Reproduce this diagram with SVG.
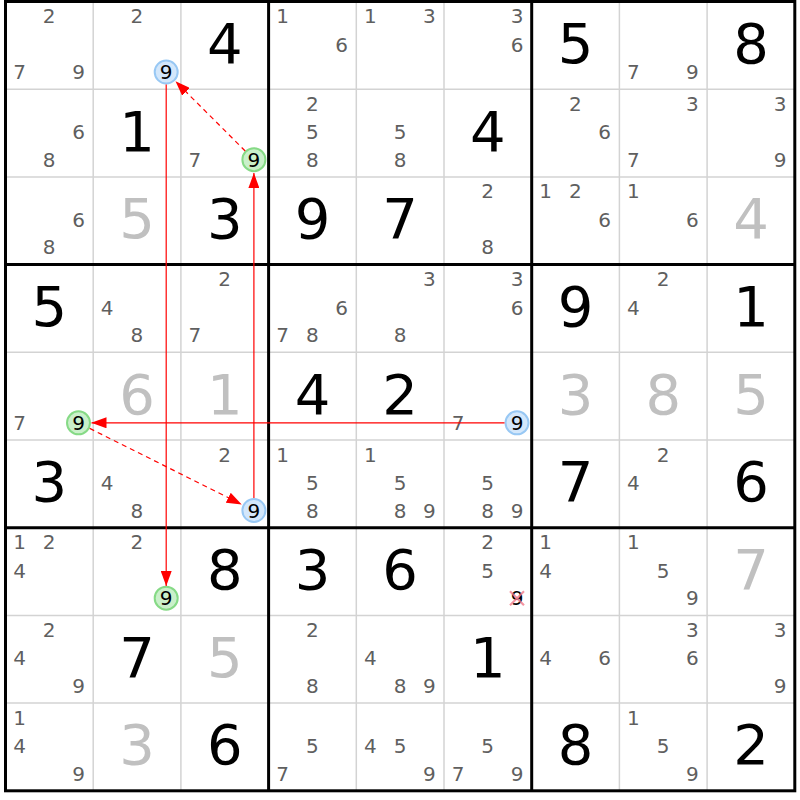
<svg xmlns="http://www.w3.org/2000/svg" width="800" height="800" viewBox="0 0 800 800">
<defs>
<style>
text{font-family:"DejaVu Sans","Liberation Sans",sans-serif;text-anchor:middle}
.c{font-size:20px;fill:#5f5f5f}
.k{font-size:20px;fill:#000}
.g{font-size:56px;fill:#000}
.s{font-size:56px;fill:#c0c0c0}
.thin{stroke:#d3d3d3;stroke-width:1.5}
.thick{stroke:#000;stroke-width:3;fill:none}
.cb{fill:#d3e7fb;stroke:#98c8f4;stroke-width:2}
.cg{fill:#caf0ca;stroke:#86da86;stroke-width:2}
.ln{stroke:#ff0000;stroke-width:1.2;fill:none}
.dash{stroke-dasharray:5 4}
.x{stroke:#f07888;stroke-width:2.2;stroke-opacity:0.8}
</style>
<marker id="ah" viewBox="0 0 15 11" refX="15" refY="5.5" markerWidth="15" markerHeight="11" markerUnits="userSpaceOnUse" orient="auto">
<path d="M0,0 L15,5.5 L0,11 z" fill="#ff0000"/>
</marker>
</defs>
<rect x="0" y="0" width="800" height="800" fill="#fff"/>
<g id="grid">
<line class="thin" x1="93.2" y1="1.5" x2="93.2" y2="790.8"/>
<line class="thin" x1="180.9" y1="1.5" x2="180.9" y2="790.8"/>
<line class="thin" x1="356.3" y1="1.5" x2="356.3" y2="790.8"/>
<line class="thin" x1="444" y1="1.5" x2="444" y2="790.8"/>
<line class="thin" x1="619.4" y1="1.5" x2="619.4" y2="790.8"/>
<line class="thin" x1="707.1" y1="1.5" x2="707.1" y2="790.8"/>
<line class="thin" x1="5.5" y1="89.2" x2="794.8" y2="89.2"/>
<line class="thin" x1="5.5" y1="176.9" x2="794.8" y2="176.9"/>
<line class="thin" x1="5.5" y1="352.3" x2="794.8" y2="352.3"/>
<line class="thin" x1="5.5" y1="440" x2="794.8" y2="440"/>
<line class="thin" x1="5.5" y1="615.4" x2="794.8" y2="615.4"/>
<line class="thin" x1="5.5" y1="703.1" x2="794.8" y2="703.1"/>
<line class="thick" x1="268.6" y1="1.5" x2="268.6" y2="790.8"/>
<line class="thick" x1="531.7" y1="1.5" x2="531.7" y2="790.8"/>
<line class="thick" x1="5.5" y1="264.6" x2="794.8" y2="264.6"/>
<line class="thick" x1="5.5" y1="527.7" x2="794.8" y2="527.7"/>
<rect class="thick" x="5.5" y="1.5" width="789.3" height="789.3"/>
</g>
<g id="r0c0"><text class="c" x="49.2" y="23">2</text><text class="c" x="19.5" y="79">7</text><text class="c" x="78.5" y="79">9</text></g>
<g id="r0c1"><text class="c" x="136.9" y="23">2</text><circle class="cb" cx="166.2" cy="72" r="11.5"/><text class="k" x="166.2" y="79">9</text></g>
<g id="r0c2"><text class="g" x="224.75" y="62.8">4</text></g>
<g id="r0c3"><text class="c" x="282.6" y="23">1</text><text class="c" x="341.6" y="51.5">6</text></g>
<g id="r0c4"><text class="c" x="370.3" y="23">1</text><text class="c" x="429.3" y="23">3</text></g>
<g id="r0c5"><text class="c" x="517" y="23">3</text><text class="c" x="517" y="51.5">6</text></g>
<g id="r0c6"><text class="g" x="575.55" y="62.8">5</text></g>
<g id="r0c7"><text class="c" x="633.4" y="79">7</text><text class="c" x="692.4" y="79">9</text></g>
<g id="r0c8"><text class="g" x="750.95" y="62.8">8</text></g>

<g id="r1c0"><text class="c" x="78.5" y="139.2">6</text><text class="c" x="49.2" y="166.7">8</text></g>
<g id="r1c1"><text class="g" x="137.05" y="150.5">1</text></g>
<g id="r1c2"><text class="c" x="194.9" y="166.7">7</text><circle class="cg" cx="253.9" cy="159.7" r="11.5"/><text class="k" x="253.9" y="166.7">9</text></g>
<g id="r1c3"><text class="c" x="312.3" y="110.7">2</text><text class="c" x="312.3" y="139.2">5</text><text class="c" x="312.3" y="166.7">8</text></g>
<g id="r1c4"><text class="c" x="400" y="139.2">5</text><text class="c" x="400" y="166.7">8</text></g>
<g id="r1c5"><text class="g" x="487.85" y="150.5">4</text></g>
<g id="r1c6"><text class="c" x="575.4" y="110.7">2</text><text class="c" x="604.7" y="139.2">6</text></g>
<g id="r1c7"><text class="c" x="692.4" y="110.7">3</text><text class="c" x="633.4" y="166.7">7</text></g>
<g id="r1c8"><text class="c" x="780.1" y="110.7">3</text><text class="c" x="780.1" y="166.7">9</text></g>

<g id="r2c0"><text class="c" x="78.5" y="226.9">6</text><text class="c" x="49.2" y="254.4">8</text></g>
<g id="r2c1"><text class="s" x="137.05" y="238.2">5</text></g>
<g id="r2c2"><text class="g" x="224.75" y="238.2">3</text></g>
<g id="r2c3"><text class="g" x="312.45" y="238.2">9</text></g>
<g id="r2c4"><text class="g" x="400.15" y="238.2">7</text></g>
<g id="r2c5"><text class="c" x="487.7" y="198.4">2</text><text class="c" x="487.7" y="254.4">8</text></g>
<g id="r2c6"><text class="c" x="545.7" y="198.4">1</text><text class="c" x="575.4" y="198.4">2</text><text class="c" x="604.7" y="226.9">6</text></g>
<g id="r2c7"><text class="c" x="633.4" y="198.4">1</text><text class="c" x="692.4" y="226.9">6</text></g>
<g id="r2c8"><text class="s" x="750.95" y="238.2">4</text></g>

<g id="r3c0"><text class="g" x="49.35" y="325.9">5</text></g>
<g id="r3c1"><text class="c" x="107.2" y="314.6">4</text><text class="c" x="136.9" y="342.1">8</text></g>
<g id="r3c2"><text class="c" x="224.6" y="286.1">2</text><text class="c" x="194.9" y="342.1">7</text></g>
<g id="r3c3"><text class="c" x="341.6" y="314.6">6</text><text class="c" x="282.6" y="342.1">7</text><text class="c" x="312.3" y="342.1">8</text></g>
<g id="r3c4"><text class="c" x="429.3" y="286.1">3</text><text class="c" x="400" y="342.1">8</text></g>
<g id="r3c5"><text class="c" x="517" y="286.1">3</text><text class="c" x="517" y="314.6">6</text></g>
<g id="r3c6"><text class="g" x="575.55" y="325.9">9</text></g>
<g id="r3c7"><text class="c" x="663.1" y="286.1">2</text><text class="c" x="633.4" y="314.6">4</text></g>
<g id="r3c8"><text class="g" x="750.95" y="325.9">1</text></g>

<g id="r4c0"><text class="c" x="19.5" y="429.8">7</text><circle class="cg" cx="78.5" cy="422.8" r="11.5"/><text class="k" x="78.5" y="429.8">9</text></g>
<g id="r4c1"><text class="s" x="137.05" y="413.6">6</text></g>
<g id="r4c2"><text class="s" x="224.75" y="413.6">1</text></g>
<g id="r4c3"><text class="g" x="312.45" y="413.6">4</text></g>
<g id="r4c4"><text class="g" x="400.15" y="413.6">2</text></g>
<g id="r4c5"><text class="c" x="458" y="429.8">7</text><circle class="cb" cx="517" cy="422.8" r="11.5"/><text class="k" x="517" y="429.8">9</text></g>
<g id="r4c6"><text class="s" x="575.55" y="413.6">3</text></g>
<g id="r4c7"><text class="s" x="663.25" y="413.6">8</text></g>
<g id="r4c8"><text class="s" x="750.95" y="413.6">5</text></g>

<g id="r5c0"><text class="g" x="49.35" y="501.3">3</text></g>
<g id="r5c1"><text class="c" x="107.2" y="490">4</text><text class="c" x="136.9" y="517.5">8</text></g>
<g id="r5c2"><text class="c" x="224.6" y="461.5">2</text><circle class="cb" cx="253.9" cy="510.5" r="11.5"/><text class="k" x="253.9" y="517.5">9</text></g>
<g id="r5c3"><text class="c" x="282.6" y="461.5">1</text><text class="c" x="312.3" y="490">5</text><text class="c" x="312.3" y="517.5">8</text></g>
<g id="r5c4"><text class="c" x="370.3" y="461.5">1</text><text class="c" x="400" y="490">5</text><text class="c" x="400" y="517.5">8</text><text class="c" x="429.3" y="517.5">9</text></g>
<g id="r5c5"><text class="c" x="487.7" y="490">5</text><text class="c" x="487.7" y="517.5">8</text><text class="c" x="517" y="517.5">9</text></g>
<g id="r5c6"><text class="g" x="575.55" y="501.3">7</text></g>
<g id="r5c7"><text class="c" x="663.1" y="461.5">2</text><text class="c" x="633.4" y="490">4</text></g>
<g id="r5c8"><text class="g" x="750.95" y="501.3">6</text></g>

<g id="r6c0"><text class="c" x="19.5" y="549.2">1</text><text class="c" x="49.2" y="549.2">2</text><text class="c" x="19.5" y="577.7">4</text></g>
<g id="r6c1"><text class="c" x="136.9" y="549.2">2</text><circle class="cg" cx="166.2" cy="598.2" r="11.5"/><text class="k" x="166.2" y="605.2">9</text></g>
<g id="r6c2"><text class="g" x="224.75" y="589">8</text></g>
<g id="r6c3"><text class="g" x="312.45" y="589">3</text></g>
<g id="r6c4"><text class="g" x="400.15" y="589">6</text></g>
<g id="r6c5"><text class="c" x="487.7" y="549.2">2</text><text class="c" x="487.7" y="577.7">5</text><text class="k" x="517" y="605.2">9</text><line class="x" x1="510" y1="591.2" x2="524" y2="605.2"/><line class="x" x1="524" y1="591.2" x2="510" y2="605.2"/></g>
<g id="r6c6"><text class="c" x="545.7" y="549.2">1</text><text class="c" x="545.7" y="577.7">4</text></g>
<g id="r6c7"><text class="c" x="633.4" y="549.2">1</text><text class="c" x="663.1" y="577.7">5</text><text class="c" x="692.4" y="605.2">9</text></g>
<g id="r6c8"><text class="s" x="750.95" y="589">7</text></g>

<g id="r7c0"><text class="c" x="49.2" y="636.9">2</text><text class="c" x="19.5" y="665.4">4</text><text class="c" x="78.5" y="692.9">9</text></g>
<g id="r7c1"><text class="g" x="137.05" y="676.7">7</text></g>
<g id="r7c2"><text class="s" x="224.75" y="676.7">5</text></g>
<g id="r7c3"><text class="c" x="312.3" y="636.9">2</text><text class="c" x="312.3" y="692.9">8</text></g>
<g id="r7c4"><text class="c" x="370.3" y="665.4">4</text><text class="c" x="400" y="692.9">8</text><text class="c" x="429.3" y="692.9">9</text></g>
<g id="r7c5"><text class="g" x="487.85" y="676.7">1</text></g>
<g id="r7c6"><text class="c" x="545.7" y="665.4">4</text><text class="c" x="604.7" y="665.4">6</text></g>
<g id="r7c7"><text class="c" x="692.4" y="636.9">3</text><text class="c" x="692.4" y="665.4">6</text></g>
<g id="r7c8"><text class="c" x="780.1" y="636.9">3</text><text class="c" x="780.1" y="692.9">9</text></g>

<g id="r8c0"><text class="c" x="19.5" y="724.6">1</text><text class="c" x="19.5" y="753.1">4</text><text class="c" x="78.5" y="780.6">9</text></g>
<g id="r8c1"><text class="s" x="137.05" y="764.4">3</text></g>
<g id="r8c2"><text class="g" x="224.75" y="764.4">6</text></g>
<g id="r8c3"><text class="c" x="312.3" y="753.1">5</text><text class="c" x="282.6" y="780.6">7</text></g>
<g id="r8c4"><text class="c" x="370.3" y="753.1">4</text><text class="c" x="400" y="753.1">5</text><text class="c" x="429.3" y="780.6">9</text></g>
<g id="r8c5"><text class="c" x="487.7" y="753.1">5</text><text class="c" x="458" y="780.6">7</text><text class="c" x="517" y="780.6">9</text></g>
<g id="r8c6"><text class="g" x="575.55" y="764.4">8</text></g>
<g id="r8c7"><text class="c" x="633.4" y="724.6">1</text><text class="c" x="663.1" y="753.1">5</text><text class="c" x="692.4" y="780.6">9</text></g>
<g id="r8c8"><text class="g" x="750.95" y="764.4">2</text></g>

<g id="connectors">
<line class="ln" x1="166.2" y1="84.5" x2="166.2" y2="586" marker-end="url(#ah)"/>
<line class="ln" x1="253.9" y1="498" x2="253.9" y2="173" marker-end="url(#ah)"/>
<line class="ln dash" x1="245.2" y1="151" x2="175.5" y2="81.3" marker-end="url(#ah)"/>
<line class="ln" x1="504.5" y1="422.8" x2="91.5" y2="422.8" marker-end="url(#ah)"/>
<line class="ln dash" x1="89.7" y1="428.4" x2="241.7" y2="504.4" marker-end="url(#ah)"/>
</g>
</svg>
